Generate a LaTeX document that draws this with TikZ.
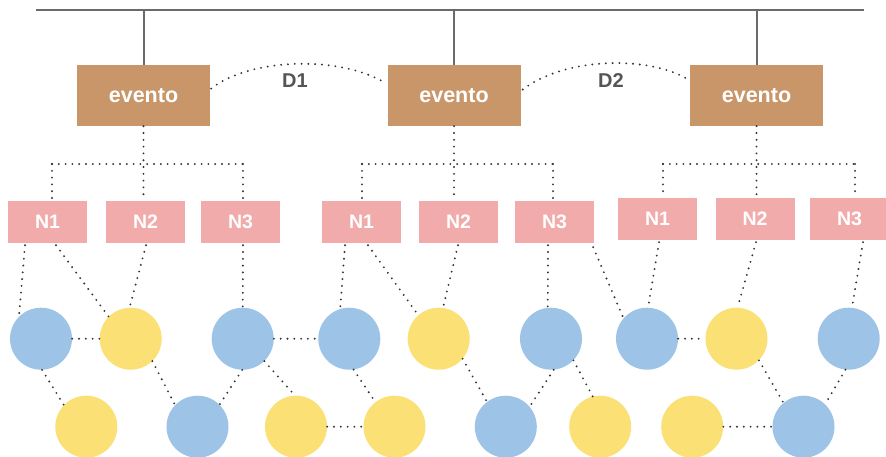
\documentclass[tikz,border=0pt]{standalone}
\usepackage{fontspec}
\setmainfont{Liberation Sans}
\usetikzlibrary{calc}
\definecolor{evbrown}{HTML}{C9966A}
\definecolor{npink}{HTML}{F2ABAB}
\definecolor{cblue}{HTML}{9DC3E6}
\definecolor{cyellow}{HTML}{FAE075}
\definecolor{dotgray}{HTML}{333333}
\definecolor{labgray}{HTML}{555555}
\definecolor{linegray}{HTML}{6A6A6A}
\begin{document}
\begin{tikzpicture}[x=1pt,y=-1pt,
  evbox/.style={fill=evbrown, minimum width=133pt, minimum height=61pt, inner sep=0pt,
    text=white, font=\fontsize{21.5}{23}\selectfont\bfseries},
  nbox/.style={fill=npink, minimum width=79pt, minimum height=42pt, inner sep=0pt,
    text=white, font=\fontsize{19.5}{21}\selectfont\bfseries},
  bluec/.style={circle, fill=cblue, minimum size=62pt, inner sep=0pt},
  yelc/.style={circle, fill=cyellow, minimum size=62pt, inner sep=0pt},
  dotline/.style={draw=dotgray, line width=2.1pt, line cap=round, dash pattern=on 0pt off 6.8pt},
  bus/.style={draw=linegray, line width=2pt},
  dlabel/.style={text=labgray, font=\fontsize{20}{22}\selectfont\bfseries}
]
\useasboundingbox (0,0) rectangle (886,456);
\clip (0,0) rectangle (886,456);

% top bus
\coordinate (busL) at (36,10);
\coordinate (busR) at (864,10);
\draw[bus] (busL) -- (busR);

% event boxes
\node[evbox] (e1) at (143.5,95.5) {evento};
\node[evbox] (e2) at (454,95.5) {evento};
\node[evbox] (e3) at (756.5,95.5) {evento};
\foreach \e in {e1,e2,e3} \draw[bus] (\e.north) -- (\e.north |- busL);

% D arcs
\draw[dotline] ($(e1.east)+(1,-7)$) .. controls (250,58) and (340,55) .. ($(e2.west)+(-1,-12)$);
\draw[dotline] ($(e2.east)+(2,-6)$) .. controls (565,57) and (650,55) .. ($(e3.west)+(0,-15)$);
\node[dlabel] (d1lab) at (295,81) {D1};
\node[dlabel] (d2lab) at (611,81) {D2};

% N boxes
\node[nbox] (n11) at (47.5,222) {N1};
\node[nbox] (n12) at (145.5,222) {N2};
\node[nbox] (n13) at (240.5,222) {N3};
\node[nbox] (n21) at (361.5,222) {N1};
\node[nbox] (n22) at (458.5,222) {N2};
\node[nbox] (n23) at (554.5,222) {N3};
\node[nbox] (n31) at (657.5,219) {N1};
\node[nbox] (n32) at (755,219) {N2};
\node[nbox] (n33) at (849.5,219) {N3};

% tree connectors
\coordinate (h1L) at (52,164);  \coordinate (h1R) at (243,164);
\coordinate (h2L) at (362,164); \coordinate (h2R) at (553,164);
\coordinate (h3L) at (663,164); \coordinate (h3R) at (855,164);
\draw[dotline] (h1L) -- (h1R);
\draw[dotline] (h2L) -- (h2R);
\draw[dotline] (h3L) -- (h3R);
\draw[dotline] (e1.south) -- (e1.south |- n12.north);
\draw[dotline] (e2.south) -- (e2.south |- n22.north);
\draw[dotline] (e3.south) -- (e3.south |- n32.north);
\draw[dotline] (h1L) -- (h1L |- n11.north);
\draw[dotline] (h1R) -- (h1R |- n13.north);
\draw[dotline] (h2L) -- (h2L |- n21.north);
\draw[dotline] (h2R) -- (h2R |- n23.north);
\draw[dotline] (h3L) -- (h3L |- n31.north);
\draw[dotline] (h3R) -- (h3R |- n33.north);

% circles row 1
\node[bluec] (c1) at (41,338.7) {};
\node[yelc]  (c2) at (130.7,338.7) {};
\node[bluec] (c3) at (242.7,338.7) {};
\node[bluec] (c4) at (349.3,338.7) {};
\node[yelc]  (c5) at (438.7,338.7) {};
\node[bluec] (c6) at (551,338.7) {};
\node[bluec] (c7) at (647,338.7) {};
\node[yelc]  (c8) at (736.5,338.7) {};
\node[bluec] (c9) at (848.7,338.7) {};
% circles row 2
\node[yelc]  (d1) at (86.3,426.7) {};
\node[bluec] (d2) at (197.5,426.7) {};
\node[yelc]  (d3) at (296,426.7) {};
\node[yelc]  (d4) at (394.5,426.7) {};
\node[bluec] (d5) at (505.8,426.7) {};
\node[yelc]  (d6) at (600.2,426.7) {};
\node[yelc]  (d7) at (692.2,426.7) {};
\node[bluec] (d8) at (803.5,426.7) {};

% N to circles
\draw[dotline] ($(n11.south)+(-22.5,2)$) -- (c1.135);
\draw[dotline] ($(n11.south)+(8.5,2)$) -- (c2.135);
\draw[dotline] ($(n12.south)+(0.5,2)$) -- (c2.92);
\draw[dotline] ($(n13.south)+(2.5,2)$) -- (c3.north);
\draw[dotline] ($(n21.south)+(-16.5,2)$) -- (c4.107);
\draw[dotline] ($(n21.south)+(6.5,2)$) -- (c5.131);
\draw[dotline] ($(n22.south)+(-0.5,2)$) -- (c5.82);
\draw[dotline] ($(n23.south)+(-6.5,2)$) -- (c6.96);
\draw[dotline] ($(n23.south east)+(-1,4)$) -- (c7.139);
\draw[dotline] ($(n31.south)+(1.5,2)$) -- (c7.88);
\draw[dotline] ($(n32.south)+(1,2)$) -- (c8.88);
\draw[dotline] ($(n33.south)+(13.5,2)$) -- (c9.84);

% row 1 horizontal links
\draw[dotline] (c1.east) -- (c2.west);
\draw[dotline] (c3.east) -- (c4.west);
\draw[dotline] (c7.east) -- (c8.west);
% row 2 horizontal links
\draw[dotline] (d3.east) -- (d4.west);
\draw[dotline] (d7.east) -- (d8.west);

% row 1 to row 2
\draw[dotline] (c1.-88) -- (d1.136);
\draw[dotline] (c2.-46) -- (d2.136);
\draw[dotline] (c3.-91) -- (d2.45);
\draw[dotline] (c3.-46) -- (d3.92);
\draw[dotline] (c4.-82) -- (d4.128);
\draw[dotline] (c5.-40) -- (d5.127);
\draw[dotline] (c6.-85) -- (d5.40);
\draw[dotline] (c6.-44) -- (d6.104);
\draw[dotline] (c8.-44) -- (d8.130);
\draw[dotline] (c9.-96) -- (d8.46);
\end{tikzpicture}
\end{document}
